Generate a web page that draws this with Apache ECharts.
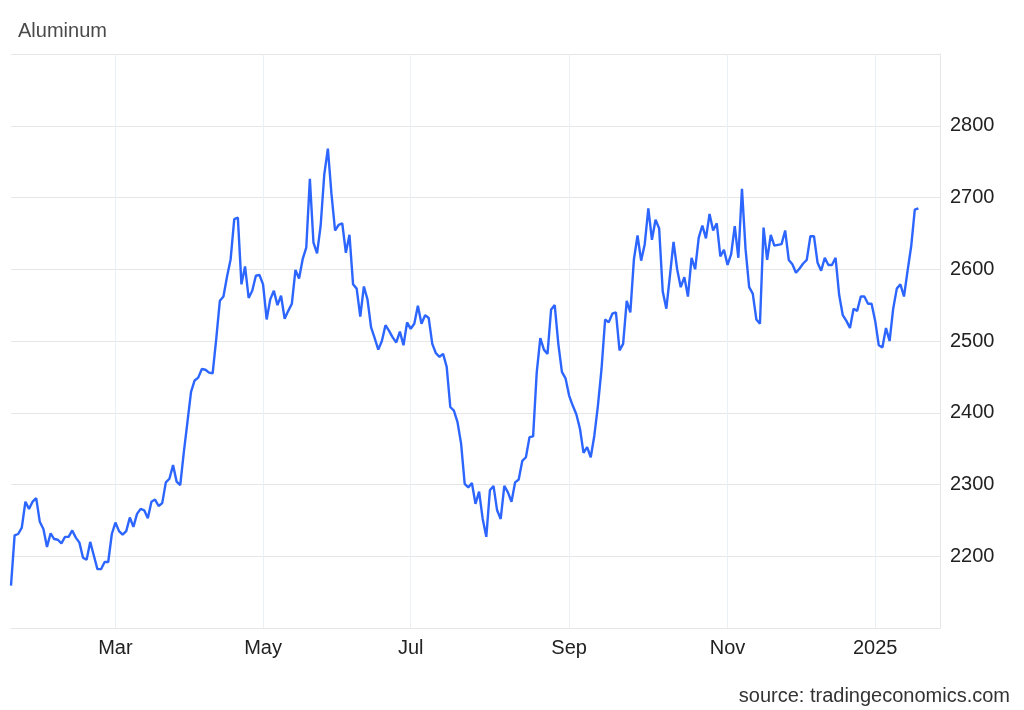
<!DOCTYPE html>
<html>
<head>
<meta charset="utf-8">
<title>Aluminum</title>
<script src="https://cdn.jsdelivr.net/npm/echarts@6/dist/echarts.min.js"></script>
<style>
  html, body { margin: 0; padding: 0; background: #fff; }
  #chart { width: 1024px; height: 710px; }
</style>
</head>
<body>
<div id="chart"></div>
<script>
  // LME trading calendar for the period shown
  var firstDay = '2024-01-22';
  var lastDay = '2025-01-28';
  var holidays = ['2024-03-29', '2024-04-01', '2024-05-06', '2024-05-27',
                  '2024-08-26', '2024-12-25', '2024-12-26', '2025-01-01'];

  // months that get a label / vertical grid line
  var monthLabels = { '2024-03': 'Mar', '2024-05': 'May', '2024-07': 'Jul',
                      '2024-09': 'Sep', '2024-11': 'Nov', '2025-01': '2025' };

  var yTicks = [2200, 2300, 2400, 2500, 2600, 2700, 2800];

  // USD/t, one value per trading day from 2024-01-22
  var prices = [
    2159, 2229, 2231, 2240, 2276, 2266, 2276, 2281, 2248, 2238,
    2213, 2232, 2224, 2223, 2218, 2227, 2227, 2236, 2226, 2219,
    2198, 2195, 2220, 2201, 2182, 2182, 2192, 2192, 2231, 2247,
    2235, 2230, 2235, 2254, 2241, 2259, 2266, 2264, 2253, 2276,
    2279, 2270, 2274, 2303, 2308, 2327, 2304, 2299, 2345, 2387,
    2429, 2445, 2449, 2461, 2460, 2456, 2455, 2503, 2556, 2562,
    2590, 2614, 2670, 2672, 2579, 2604, 2560, 2570, 2591, 2592,
    2579, 2530, 2558, 2570, 2550, 2563, 2531, 2542, 2552, 2599,
    2587, 2614, 2630, 2726, 2637, 2622, 2661, 2732, 2768, 2705,
    2654, 2662, 2664, 2623, 2648, 2579, 2573, 2534, 2576, 2558,
    2519, 2504, 2488, 2500, 2522, 2514, 2505, 2498, 2513, 2494,
    2526, 2517, 2524, 2549, 2524, 2536, 2532, 2496, 2483, 2478,
    2482, 2464, 2408, 2403, 2387, 2357, 2301, 2296, 2302, 2273,
    2290, 2252, 2227, 2292, 2298, 2264, 2252, 2298, 2289, 2276,
    2303, 2307, 2333, 2338, 2366, 2367, 2456, 2504, 2488, 2482,
    2544, 2550, 2496, 2457, 2448, 2424, 2410, 2398, 2378, 2344,
    2352, 2338, 2368, 2410, 2461, 2530, 2526, 2538, 2540, 2487,
    2496, 2556, 2540, 2614, 2647, 2612, 2635, 2685, 2641, 2669,
    2657, 2569, 2545, 2591, 2638, 2600, 2575, 2589, 2562, 2616,
    2600, 2644, 2661, 2643, 2677, 2654, 2664, 2618, 2627, 2606,
    2621, 2660, 2616, 2712, 2628, 2575, 2566, 2530, 2524, 2658,
    2613, 2648, 2633, 2634, 2635, 2654, 2613, 2607, 2595, 2601,
    2608, 2613, 2646, 2646, 2609, 2598, 2616, 2606, 2606, 2616,
    2564, 2536, 2528, 2518, 2545, 2542, 2562, 2562, 2552, 2552,
    2528, 2494, 2491, 2518, 2500, 2545, 2573, 2579, 2562, 2598,
    2632, 2683, 2685
  ];

  var days = [];
  var end = new Date(lastDay + 'T00:00:00Z').getTime();
  for (var t = new Date(firstDay + 'T00:00:00Z').getTime(); t <= end; t += 86400000) {
    var d = new Date(t);
    var wd = d.getUTCDay();
    if (wd === 0 || wd === 6) continue;
    var s = d.toISOString().slice(0, 10);
    if (holidays.indexOf(s) >= 0) continue;
    days.push(s);
  }

  function isMonthStart(idx) {
    if (idx <= 0) return false;
    var m = days[idx].slice(0, 7);
    return m !== days[idx - 1].slice(0, 7) && !!monthLabels[m];
  }

  var font = '"Liberation Sans", Arial, sans-serif';
  var chart = echarts.init(document.getElementById('chart'));

  chart.setOption({
    animation: false,
    backgroundColor: '#fff',
    title: [
      {
        text: 'Aluminum',
        left: 13, top: 16,
        textStyle: { fontFamily: font, fontSize: 20, fontWeight: 'normal', color: '#4a4a4a' }
      },
      {
        text: 'source: tradingeconomics.com',
        right: 9, top: 681,
        textStyle: { fontFamily: font, fontSize: 20, fontWeight: 'normal', color: '#333' }
      }
    ],
    grid: { left: 11, right: 84, top: 54, bottom: 82 },
    xAxis: {
      type: 'category',
      data: days,
      boundaryGap: false,
      axisLine: { show: true, lineStyle: { color: '#e6e6e6', width: 1 } },
      axisTick: { show: false },
      axisLabel: {
        interval: function (idx) { return isMonthStart(idx); },
        formatter: function (v) { return monthLabels[v.slice(0, 7)] || ''; },
        color: '#222', fontFamily: font, fontSize: 20, margin: 10
      },
      splitLine: {
        show: true,
        interval: function (idx) { return isMonthStart(idx); },
        lineStyle: { color: '#ebf0f4', width: 1 }
      }
    },
    yAxis: {
      type: 'value',
      position: 'right',
      min: 2100,
      max: 2900,
      interval: 100,
      axisLine: { show: true, lineStyle: { color: '#e6e6e6', width: 1 } },
      axisTick: { show: false },
      axisLabel: {
        formatter: function (v) { return yTicks.indexOf(v) >= 0 ? String(v) : ''; },
        color: '#222', fontFamily: font, fontSize: 20, margin: 10
      },
      splitLine: { show: true, lineStyle: { color: '#e6e6e6', width: 1 } }
    },
    series: [
      {
        name: 'Aluminum',
        type: 'line',
        data: prices,
        showSymbol: false,
        smooth: false,
        lineStyle: { color: '#2d66ff', width: 2.4 },
        itemStyle: { color: '#2d66ff' }
      }
    ]
  });
</script>
</body>
</html>
